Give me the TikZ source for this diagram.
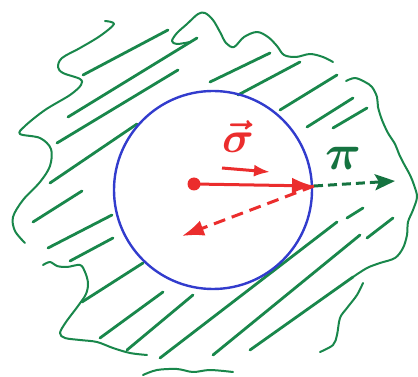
\documentclass[tikz,border=0pt]{standalone}
\usepackage{amsmath}
\usetikzlibrary{arrows.meta}
\definecolor{inkgreen}{RGB}{25,135,75}
\definecolor{inkblue}{RGB}{50,60,205}
\definecolor{inkred}{RGB}{235,45,45}
\tikzset{
  outline/.style={draw=inkgreen, line width=2pt, line cap=round, line join=round},
  hatch/.style={draw=inkgreen, line width=2.8pt, line cap=round},
  redarrow/.style={draw=inkred, line width=3pt, ->},
  greenarrow/.style={draw=inkgreen!85!black, line width=3pt, ->}
}
\begin{document}
\begin{tikzpicture}[x=1pt, y=-1pt, >={Latex[length=22pt,width=16pt]}]
    \useasboundingbox (0,0) rectangle (418,377);
    % Đường biên
    \draw[outline] plot[smooth, tension=0.55] coordinates {(105,21) (114,24) (100,36) (80,48) (62,58) (58,67) (63,73) (80,79) (81,85) (70,95) (45,110) (25,126) (20,134) (40,138) (51,149) (50,166) (40,182) (23,200) (13,217) (15,231) (25,243)};
    \draw[outline] plot[smooth, tension=0.55] coordinates {(43,265) (50,262) (57,266) (67,267) (80,265) (85,272) (88,283) (86,294) (78,306) (66,322) (60,333) (65,338) (80,340) (97,342) (113,348) (130,353) (147,355)};
    \draw[outline] plot[smooth, tension=0.55] coordinates {(143,375) (157,370) (177,369) (193,372) (210,370) (233,372)};
    \draw[outline] plot[smooth, tension=0.55] coordinates {(320,352) (333,345) (337,335) (340,318) (347,308) (357,295) (363,283)};
    \draw[outline] plot[smooth, tension=0.55] coordinates {(353,277) (367,268) (380,263) (395,258) (403,248) (407,235) (408,222) (413,210) (417,197) (414,185) (410,175) (404,164) (399,154) (395,144) (388,133) (382,120) (378,107) (377,97) (372,87) (365,82) (355,78) (346,81)};
    \draw[outline] plot[smooth, tension=0.55] coordinates {(333,62) (323,57) (310,54) (296,57) (284,55) (277,46) (268,37) (257,32) (244,37) (234,47) (226,43) (220,32) (213,20) (205,13) (198,14) (187,24) (177,33) (172,41) (177,44) (190,42)};
    % Gạch chéo
    \foreach \xa/\ya/\xb/\yb in {83/75/168/30, 68/117/197/38, 57/143/178/70, 50/183/137/124,
        33/222/82/191, 48/248/112/215, 70/261/113/238, 82/302/143/263, 100/338/163/292,
        127/350/193/295, 160/358/337/222, 347/218/363/208, 213/355/360/235, 367/238/393/218,
        250/350/353/277, 210/82/270/53, 238/95/300/62, 280/110/337/75, 307/127/353/98,
        333/128/367/108}
        \draw[hatch] (\xa,\ya) -- (\xb,\yb);
    % Hình tròn
    \node[circle, draw=inkblue, line width=2.4pt, minimum size=198pt, inner sep=0pt] (ring) at (213,190) {};
    % Các vectơ
    \node[circle, fill=inkred, minimum size=13pt, inner sep=0pt] (dot) at (194,184) {};
    \coordinate (tip) at (314,186);
    \coordinate (back) at (182,236);
    \coordinate (pitip) at (395,181);
    \coordinate (sa) at (222,168);
    \coordinate (sb) at (270,172);
    \draw[redarrow] (dot.center) -- (tip);
    \draw[redarrow, dash pattern=on 12pt off 7pt] (tip) -- (back);
    \draw[redarrow, >={Latex[length=16pt,width=12pt]}] (sa) -- (sb);
    \draw[greenarrow, dash pattern=on 9pt off 5pt, >={Stealth[length=20pt,width=16pt,inset=4pt]}] (tip) -- (pitip);
    \node[text=inkred] (sigma) at (238,137) {\scalebox{4.4}{\boldmath$\vec{\sigma}$}};
    \node[text=inkgreen!85!black] (pi) at (343,158) {\scalebox{5}{\boldmath$\pi$}};
\end{tikzpicture}
\end{document}
